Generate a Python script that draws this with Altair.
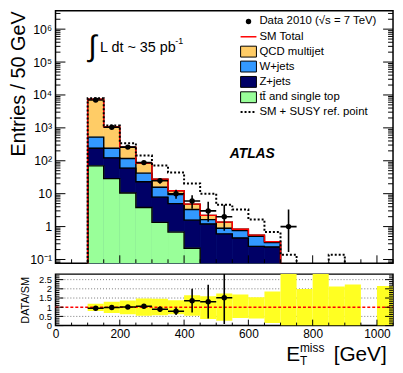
import altair as alt
import pandas as pd

# ---------------- data ----------------
bin_lo = [100, 150, 200, 250, 300, 350, 400, 450, 500, 550, 600, 650]
BW = 50
qcd   = [6900, 830, 140, 42, 11.7, 2.9, 1.5, 0.57, 0.48, 0.07, 0.04, 0.02]
wjets = [285, 117, 57, 19, 7.9, 4.4, 1.73, 0.43, 0.29, 0.31, 0.26, 0.09]
zjets = [170, 94, 49.5, 19.2, 6.5, 4.3, 1.35, 1.2, 0.6, 0.45, 0.25, 0.24]
ttbar = [70, 28.6, 10.5, 3.8, 1.34, 0.68, 0.22, 0, 0, 0, 0, 0]

data_x  = [125, 175, 225, 275, 325, 375, 425, 475, 525, 725]
data_y  = [7000, 1050, 260, 88, 25, 10, 6, 3, 2, 1]
data_lo = [6916, 1018, 244, 79, 20, 7, 3.5, 1.4, 0.75, 0.17]
data_hi = [7084, 1082, 276, 97, 30, 13.2, 8.9, 5.7, 4.6, 3.3]

susy_lo = [100, 150, 200, 250, 300, 350, 400, 450, 500, 550, 600, 650, 700, 750, 800, 850]
susy    = [8000, 1180, 340, 144, 72, 44, 20.5, 10, 4.6, 3.3, 1.63, 0.68, 0.14, 0, 0, 0.14]

ratio_x  = [125, 175, 225, 275, 325, 375, 425, 475, 525]
ratio_y  = [0.94, 0.98, 1.01, 1.05, 0.89, 0.78, 1.35, 1.30, 1.51]
ratio_lo = [0.93, 0.95, 0.95, 0.94, 0.74, 0.58, 0.71, 0.39, 0.09]
ratio_hi = [0.95, 1.01, 1.07, 1.16, 1.04, 0.98, 2.00, 2.22, 3.00]

band_x  = [100, 150, 200, 250, 300, 350, 400, 450, 500, 550, 600, 650, 700, 750, 800, 850, 900, 1000]
band_lo = [0.80, 0.69, 0.62, 0.53, 0.56, 0.62, 0.53, 0.36, 0.27, 0.41, 0.39, 0.14, 0, 0, 0, 0, 0, 0]
band_hi = [1.19, 1.30, 1.37, 1.47, 1.46, 1.38, 1.65, 1.60, 1.74, 1.69, 1.54, 1.86, 3.0, 1.99, 3.0, 2.13, 2.23, 2.16]

y_major = [0.1, 1, 10, 100, 1e3, 1e4, 1e5, 1e6]
x_major = [0, 200, 400, 600, 800, 1000]
r_major = [0, 0.5, 1, 1.5, 2, 2.5]
r_grid  = [0.5, 1.5, 2, 2.5]

colors = {"qcd": "#FFCC66", "w": "#3399FF", "z": "#000066", "tt": "#99FF99"}
FONT = "Liberation Sans"
FLOOR = 1e-3
W, H = 341, 255
RH = 52

# ---------------- scales / axes ----------------
xscale = alt.Scale(domain=[0, 1050], nice=False, zero=False)
yscale = alt.Scale(type="log", domain=[0.077, 3.6e6], nice=False)
rscale = alt.Scale(domain=[0, 2.8], nice=False, zero=False)

ylab = ("datum.value < 0.5 ? '10\u207b\u00b9' : datum.value < 5 ? '1' : datum.value < 50 ? '10' : "
        "datum.value < 500 ? '10\u00b2' : datum.value < 5000 ? '10\u00b3' : datum.value < 5e4 ? '10\u2074' : "
        "datum.value < 5e5 ? '10\u2075' : '10\u2076'")
yaxis = alt.Axis(values=y_major, labelExpr=ylab, ticks=False, domain=False, grid=False,
                 labelFontSize=12.5, labelPadding=4, labelOverlap=False, labelFlush=False,
                 title="Entries / 50 GeV", titleFontSize=20, titleFontWeight="normal",
                 titleAnchor="end", titlePadding=1)
raxis = alt.Axis(values=r_major, labelExpr="'' + datum.value", ticks=False, domain=False, grid=False,
                 labelFontSize=9.5, labelPadding=4, labelOverlap=False, labelFlush=False,
                 title="DATA/SM", titleFontSize=11, titleFontWeight="normal", titlePadding=8)
xaxis_r = alt.Axis(values=x_major, labelExpr="'' + datum.value", ticks=False, domain=False, grid=False,
                   labelFontSize=12, labelPadding=3, labelOverlap=False, labelFlush=False, title=None)


def XT(f):
    return alt.X(f, type="quantitative", scale=xscale, axis=None)


def YT(f):
    return alt.Y(f, type="quantitative", scale=yscale, axis=yaxis)


def XR(f):
    return alt.X(f, type="quantitative", scale=xscale, axis=xaxis_r)


def YR(f):
    return alt.Y(f, type="quantitative", scale=rscale, axis=raxis)


ONE = pd.DataFrame({"a": [0]})

# ---------------- cumulative stack ----------------
tt_c = list(ttbar)
z_c = [a + b for a, b in zip(tt_c, zjets)]
w_c = [a + b for a, b in zip(z_c, wjets)]
tot = [a + b for a, b in zip(w_c, qcd)]
levels = [("qcd", tot), ("w", w_c), ("z", z_c), ("tt", tt_c)]

rows = []
for k, (name, vals) in enumerate(levels):
    for lo, v in zip(bin_lo, vals):
        rows.append({"lvl": name, "k": k, "lo": lo, "hi": lo + BW, "top": max(v, FLOOR), "floor": FLOOR})
fill_df = pd.DataFrame(rows)


def step_rows(name, los, vals, bw):
    pts = [(los[0], FLOOR)] + [(lo, max(v, FLOOR)) for lo, v in zip(los, vals)] + [(los[-1] + bw, FLOOR)]
    return [{"lvl": name, "i": i, "x": x, "y": y} for i, (x, y) in enumerate(pts)]


line_rows = []
for name, vals in levels:
    line_rows += step_rows(name, bin_lo, vals, BW)
line_df = pd.DataFrame(line_rows)
tot_df = pd.DataFrame(step_rows("tot", bin_lo, tot, BW))
susy_df = pd.DataFrame(step_rows("susy", susy_lo, susy, BW))

data_df = pd.DataFrame({"x": data_x, "y": data_y, "lo": data_lo, "hi": data_hi})
data_df["xl"] = data_df["x"] - BW / 2
data_df["xh"] = data_df["x"] + BW / 2

cscale = alt.Scale(domain=list(colors.keys()), range=list(colors.values()))
fills = alt.Chart(fill_df).mark_bar(clip=True, strokeWidth=0.6).encode(
    x=XT("lo"), x2=alt.X2("hi"), y=YT("top"), y2=alt.Y2("floor"),
    color=alt.Color("lvl:N", scale=cscale, legend=None),
    stroke=alt.Stroke("lvl:N", scale=cscale, legend=None),
    order=alt.Order("k:Q"))

outlines = alt.Chart(line_df).mark_line(interpolate="step-after", clip=True, color="black", strokeWidth=1.4).encode(
    x=XT("x"), y=YT("y"), detail="lvl:N", order="i:Q")
redline = alt.Chart(tot_df).mark_line(interpolate="step-after", clip=True, color="#FF0000", strokeWidth=1.4).encode(
    x=XT("x"), y=YT("y"), order="i:Q")
susyline = alt.Chart(susy_df).mark_line(interpolate="step-after", clip=True, color="black", strokeWidth=2,
                                         strokeDash=[2, 2]).encode(x=XT("x"), y=YT("y"), order="i:Q")

d_v = alt.Chart(data_df).mark_rule(color="black", strokeWidth=1.6, clip=True).encode(x=XT("x"), y=YT("lo"), y2=alt.Y2("hi"))
d_h = alt.Chart(data_df).mark_rule(color="black", strokeWidth=1.6, clip=True).encode(x=XT("xl"), x2=alt.X2("xh"), y=YT("y"))
d_p = alt.Chart(data_df).mark_circle(color="black", opacity=1, size=30).encode(x=XT("x"), y=YT("y"))

# ticks (inside frame)
ymin_t = pd.DataFrame({"v": [m * 10 ** k for k in range(-2, 7) for m in range(2, 10) if 0.077 <= m * 10 ** k <= 3.6e6]})
ymaj_t = pd.DataFrame({"v": y_major})
xmaj_t = pd.DataFrame({"v": x_major})
xmin_t = pd.DataFrame({"v": [v for v in range(0, 1051, 50) if v % 200 != 0]})


def yticks(df, scaleY, L, Wd):
    left = alt.Chart(df).mark_rule(color="black", strokeWidth=1).encode(y=scaleY("v"), x=alt.value(0), x2=alt.value(L))
    right = alt.Chart(df).mark_rule(color="black", strokeWidth=1).encode(y=scaleY("v"), x=alt.value(Wd - L), x2=alt.value(Wd))
    return [left, right]


def xticks(df, scaleX, L, Hh):
    return [alt.Chart(df).mark_rule(color="black", strokeWidth=1).encode(x=scaleX("v"), y=alt.value(Hh - L), y2=alt.value(Hh))]


tick_layers = yticks(ymaj_t, YT, 10, W) + yticks(ymin_t, YT, 5, W) + xticks(xmaj_t, XT, 8, H) + xticks(xmin_t, XT, 4, H)


def txt(s, x, y, size, **kw):
    props = dict(text=s, fontSize=size, font=FONT, color="black", align="left", baseline="alphabetic")
    props.update(kw)
    return alt.Chart(ONE).mark_text(**props).encode(x=alt.value(x), y=alt.value(y))


# legend
LX0, LX1, TX = 187, 203, 206
rows_y = [10.7, 26.2, 41.2, 56.3, 71.8, 87.3, 102.3]
leg = []
leg.append(alt.Chart(ONE).mark_circle(color="black", opacity=1, size=30).encode(x=alt.value(195), y=alt.value(rows_y[0])))
leg.append(txt("Data 2010 (\u221as = 7 TeV)", TX, rows_y[0], 11.5, baseline="middle"))
leg.append(alt.Chart(ONE).mark_rule(color="#FF0000", strokeWidth=1.5).encode(x=alt.value(LX0), x2=alt.value(LX1), y=alt.value(rows_y[1])))
leg.append(txt("SM Total", TX, rows_y[1], 11.5, baseline="middle"))
for i, (key, lab) in enumerate([("qcd", "QCD multijet"), ("w", "W+jets"), ("z", "Z+jets"), ("tt", "t\u0074\u0304 and single top")]):
    yc = rows_y[2 + i]
    leg.append(alt.Chart(ONE).mark_rect(fill=colors[key], stroke="black", strokeWidth=1).encode(
        x=alt.value(LX0), x2=alt.value(LX1), y=alt.value(yc - 5.5), y2=alt.value(yc + 5.5)))
    leg.append(txt(lab, TX, yc, 11.5, baseline="middle"))
leg.append(alt.Chart(ONE).mark_rule(color="black", strokeWidth=2, strokeDash=[2, 2]).encode(
    x=alt.value(LX0), x2=alt.value(LX1), y=alt.value(rows_y[6])))
leg.append(txt("SM + SUSY ref. point", TX, rows_y[6], 11.5, baseline="middle"))

annot = [
    txt("\u222b", 33, 36.9, 30, baseline="middle"),
    txt("L dt ~ 35 pb", 45, 41.7, 14.5),
    txt("-1", 121, 34, 9),
    txt("ATLAS", 176, 148.7, 14, fontWeight="bold", fontStyle="italic"),
]

top = alt.layer(fills, outlines, redline, susyline, d_v, d_h, d_p, *tick_layers, *leg, *annot).properties(width=W, height=H)

# ---------------- ratio panel ----------------
band_df = pd.DataFrame({"lo": band_x, "hi": [b + BW for b in band_x], "ylo": band_lo, "yhi": band_hi})
grid_df = pd.DataFrame({"v": r_grid})
one_df = pd.DataFrame({"v": [1.0]})
rat_df = pd.DataFrame({"x": ratio_x, "y": ratio_y, "lo": ratio_lo, "hi": ratio_hi})
rat_df["xl"] = rat_df["x"] - BW / 2
rat_df["xh"] = rat_df["x"] + BW / 2

grid = alt.Chart(grid_df).mark_rule(color="#777777", strokeWidth=1, strokeDash=[1, 2]).encode(y=YR("v"), x=alt.value(0), x2=alt.value(W))
band = alt.Chart(band_df).mark_rect(color="#FFFF22", opacity=1, clip=True).encode(x=XR("lo"), x2=alt.X2("hi"), y=YR("ylo"), y2=alt.Y2("yhi"))
unity = alt.Chart(one_df).mark_rule(color="#FF0000", strokeWidth=1.4, strokeDash=[3, 2]).encode(y=YR("v"), x=alt.value(0), x2=alt.value(W))
r_v = alt.Chart(rat_df).mark_rule(color="black", strokeWidth=1.6, clip=True).encode(x=XR("x"), y=YR("lo"), y2=alt.Y2("hi"))
r_h = alt.Chart(rat_df).mark_rule(color="black", strokeWidth=1.6, clip=True).encode(x=XR("xl"), x2=alt.X2("xh"), y=YR("y"))
r_p = alt.Chart(rat_df).mark_circle(color="black", opacity=1, size=30).encode(x=XR("x"), y=YR("y"))

rmaj_t = pd.DataFrame({"v": r_major})
rmin_t = pd.DataFrame({"v": [round(i * 0.1, 2) for i in range(0, 28) if i % 5 != 0]})
rticks = yticks(rmaj_t, YR, 8, W) + yticks(rmin_t, YR, 4, W) + xticks(xmaj_t, XR, 6, RH) + xticks(xmin_t, XR, 3, RH)

xtitle = [
    txt("E", 233, 87.5, 21),
    txt("miss", 247, 78.5, 12),
    txt("T", 247, 91.5, 12),
    txt("[GeV]", 281, 87.5, 21),
]

bottom = alt.layer(grid, band, unity, r_v, r_h, r_p, *rticks, *xtitle).properties(width=W, height=RH)

chart = alt.vconcat(top, bottom, spacing=6).properties(padding=0).configure_view(
    stroke="black", strokeWidth=1.5).configure_axis(
    labelFont=FONT, titleFont=FONT, labelColor="black", titleColor="black").configure_text(font=FONT)

chart.save("out.html", embed_options={"renderer": "svg", "actions": False})
